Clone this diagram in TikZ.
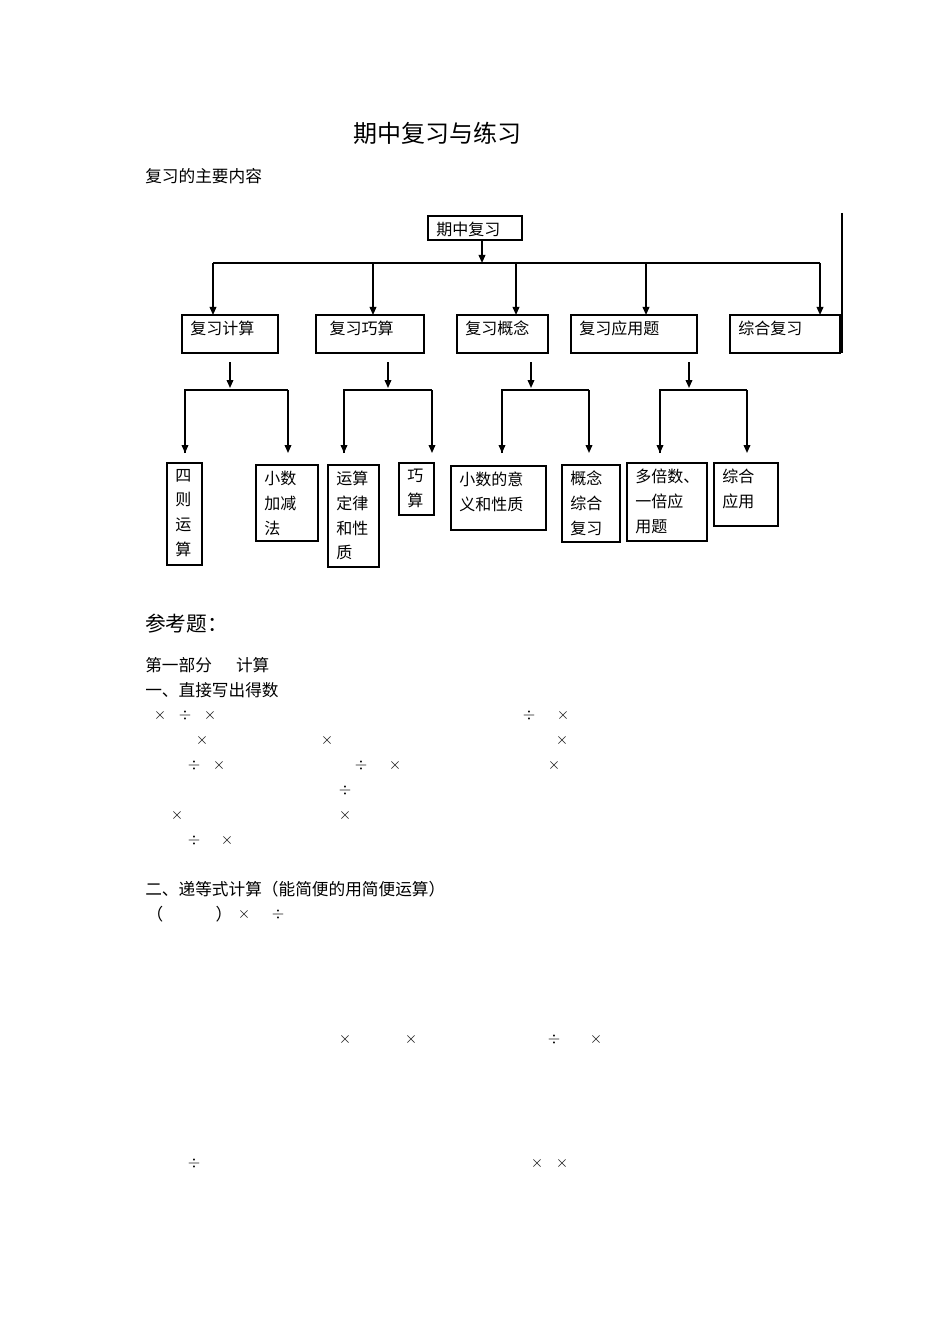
\documentclass[tikz,border=0pt]{standalone}
\usepackage{fontspec}
\setmainfont{Noto Sans CJK SC}
\usetikzlibrary{arrows.meta}
\begin{document}
\begin{tikzpicture}[x=0.75pt,y=-0.75pt,
  ln/.style={line width=1.1pt},
  ar/.style={ln,-{Triangle[length=6pt,width=5pt]}},
  bt/.style={anchor=north west,inner sep=0pt,align=left,font=\fontsize{12}{18.5}\selectfont},
  tx/.style={anchor=west,inner sep=0pt,font=\fontsize{12.5}{15}\selectfont},
  sy/.style={inner sep=0pt,font=\fontsize{12.5}{15}\selectfont}]
\useasboundingbox (0,0) rectangle (950,1344);
\newcommand{\bx}[6]{\draw[line width=0.8pt] (#2,#3) rectangle (#4,#5); \node[bt] (#1) at (#2+8,#3+6) {#6};}
\node[anchor=center,inner sep=0pt,font=\fontsize{18}{20}\selectfont] (title) at (437,133) {期中复习与练习};
\node[tx] (sub) at (145,176) {复习的主要内容};
% top
\bx{top}{428}{216}{522}{240}{期中复习}
\coordinate (t0) at (482,240);
\coordinate (h) at (482,263);
\draw[ar] (t0) -- (h);
\draw[ln] (213,263) -- (820,263);
\foreach \x in {213,373,516,646,820} \draw[ar] (\x,263) -- (\x,315);
\draw[line width=0.8pt] (842,213) -- (842,353);
\bx{a}{182}{315}{278}{353}{复习计算}
\bx{b}{316}{315}{424}{353}{\,\,复习巧算}
\bx{c}{457}{315}{548}{353}{复习概念}
\bx{d}{571}{315}{697}{353}{复习应用题}
\bx{e}{730}{315}{840}{353}{综合复习}
\foreach \m/\l/\r in {230/185/288,388/344/432,531/502/589,689/660/747}{
  \draw[ar] (\m,362) -- (\m,388);
  \draw[ln] (\l,453) -- (\l,390) -- (\r,390);
  \draw[ar] (\l,400) -- (\l,453);
  \draw[ar] (\r,390) -- (\r,453);
}
\bx{f1}{167}{463}{202}{565}{四\\则\\运\\算}
\bx{f2}{256}{465}{318}{541}{小数\\加减\\法}
\bx{f3}{328}{465}{379}{567}{运算\\定律\\和性\\质}
\bx{f4}{399}{463}{434}{515}{巧\\算}
\bx{f5}{451}{466}{546}{530}{小数的意\\义和性质}
\bx{f6}{562}{465}{620}{542}{概念\\综合\\复习}
\bx{f7}{627}{463}{707}{541}{多倍数、\\一倍应\\用题}
\bx{f8}{714}{463}{778}{526}{综合\\应用}
% text
\node[anchor=west,inner sep=0pt,font=\fontsize{15.5}{18}\selectfont] (ref) at (145,624) {参考题：};
\node[tx] (p1) at (145,665) {第一部分\quad\ \ 计算};
\node[tx] (p2) at (145,690) {一、直接写出得数};
\foreach \x/\y/\s in {160/715/\times,185/715/\div,210/715/\times,529/715/\div,563/715/\times,
 202/740/\times,327/740/\times,562/740/\times,
 194/765/\div,219/765/\times,361/765/\div,395/765/\times,554/765/\times,
 345/790/\div,177/815/\times,345/815/\times,194/840/\div,227/840/\times,
 244/914/\times,278/914/\div,
 345/1039/\times,411/1039/\times,554/1039/\div,596/1039/\times,
 194/1163/\div,537/1163/\times,562/1163/\times}
 \node[sy] at (\x,\y) {$\s$};
\node[tx] (p3) at (145,889) {二、递等式计算（能简便的用简便运算）};
\node[sy] (lp) at (155,914) {（};
\node[sy] (rp) at (224,914) {）};
\end{tikzpicture}
\end{document}
